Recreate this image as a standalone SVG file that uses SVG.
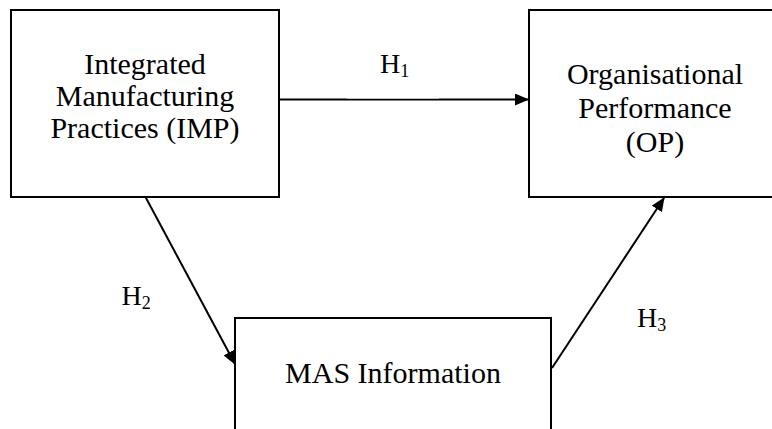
<svg xmlns="http://www.w3.org/2000/svg" width="772" height="429" viewBox="0 0 772 429">
<style>
.box{fill:#fff;stroke:#000;stroke-width:2}
.t{font-family:"Liberation Serif","Times New Roman",serif;font-size:30px;fill:#000;text-anchor:middle}
.h{font-family:"Liberation Serif","Times New Roman",serif;font-size:28px;fill:#000}
.sub{font-size:18px}
.c{stroke:#000;stroke-width:2;fill:none;marker-end:url(#ah)}
</style>
<defs>
<marker id="ah" markerWidth="7" markerHeight="6" refX="6.5" refY="3" orient="auto" markerUnits="strokeWidth">
<path d="M0,0 L7,3 L0,6 Z" fill="#000"/>
</marker>
</defs>
<rect width="772" height="429" fill="#fff"/>
<g id="imp">
<rect class="box" x="11" y="10" width="268" height="187"/>
<text class="t" x="145" y="74">Integrated</text>
<text class="t" x="145" y="106">Manufacturing</text>
<text class="t" x="145" y="138">Practices (IMP)</text>
</g>
<g id="op">
<rect class="box" x="529" y="10" width="260" height="187"/>
<text class="t" x="655" y="84">Organisational</text>
<text class="t" x="655" y="118">Performance</text>
<text class="t" x="655" y="152">(OP)</text>
</g>
<g id="mas">
<rect class="box" x="235" y="318" width="316" height="150"/>
<text class="t" x="393" y="383">MAS Information</text>
</g>
<g id="connectors">
<line class="c" x1="280" y1="99.5" x2="528" y2="99.5"/>
<line class="c" x1="145.5" y1="197" x2="235" y2="364"/>
<line class="c" x1="552" y1="368" x2="664" y2="198"/>
</g>
<g id="labels">
<rect x="347" y="97" width="92" height="1.5" fill="#fff"/>
<text class="h" x="380" y="73">H<tspan class="sub" dy="4">1</tspan></text>
<text class="h" x="121.5" y="305">H<tspan class="sub" dy="4">2</tspan></text>
<text class="h" x="637" y="327">H<tspan class="sub" dy="4">3</tspan></text>
</g>
</svg>
